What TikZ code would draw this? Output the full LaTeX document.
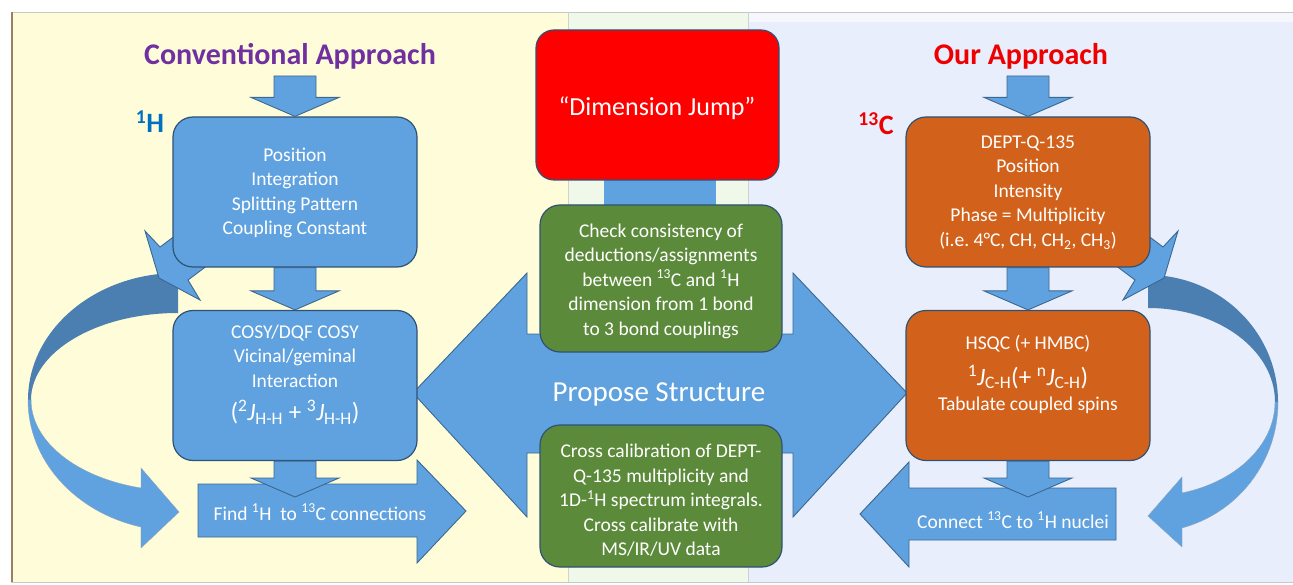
\documentclass[tikz,border=0pt]{standalone}
\usepackage{fontspec}
\setmainfont{Carlito}
\usetikzlibrary{calc}

\definecolor{paneyellow}{HTML}{FFFDD9}
\definecolor{panegreen}{HTML}{F0F9E9}
\definecolor{paneblue}{HTML}{E8EEFB}
\definecolor{flowblue}{HTML}{60A2DF}
\definecolor{bandblue}{HTML}{4C7FB1}
\definecolor{edgeblue}{HTML}{3B6791}
\definecolor{stepgreen}{HTML}{5C8A3B}
\definecolor{steporange}{HTML}{D2621B}
\definecolor{jumpred}{HTML}{FF0000}
\definecolor{convpurple}{HTML}{7030A0}
\definecolor{ourred}{HTML}{EE0000}
\definecolor{hblue}{HTML}{0070C0}

\pgfdeclarelayer{panels}
\pgfdeclarelayer{links}
\pgfsetlayers{panels,links,main}

% block arrow pointing down, shaft from #1 to the tip at #2
\newcommand{\dnarrow}[2]{%
  \draw[blockarrow] let \p1=(#1), \p2=(#2) in
    (\x2,\y2) -- (\x2-44pt,\y2+19pt) -- (\x2-21pt,\y2+19pt) -- (\x2-21pt,\y1)
    -- (\x2+21pt,\y1) -- (\x2+21pt,\y2+19pt) -- (\x2+44pt,\y2+19pt) -- cycle;}

\begin{document}
\begin{tikzpicture}[x=1pt,y=-1pt,font=\fontsize{19.5}{24.5}\selectfont]
  \tikzset{
    blockarrow/.style={fill=flowblue,draw=edgeblue,line width=0.9pt},
    bandback/.style={fill=bandblue},
    bandfront/.style={fill=flowblue},
    card/.style={rectangle,rounded corners=20pt,draw=edgeblue!80!black,line width=1.2pt,
      minimum width=244pt,minimum height=150pt},
    inner/.style={text=white,align=center},
    title/.style={font=\fontsize{30}{36}\selectfont\bfseries,anchor=base},
    nucleus/.style={font=\fontsize{28}{32}\selectfont\bfseries,anchor=base},
    jline/.style={text=white,font=\fontsize{25}{30}\selectfont}
  }
  \useasboundingbox (0,0) rectangle (1293,585);

  % Three coloured panels.
  \begin{pgfonlayer}{panels}
    \fill[paneyellow] (11,12) rectangle (568,582);
    \fill[panegreen] (568,12) rectangle (748,582);
    \fill[paneblue] (748,12) rectangle (1293,582);
    \fill[white!55!paneblue] (748,13) rectangle (1293,22);
    \draw[black!22,line width=0.8pt] (11,12) -- (1293,12) (11,582) -- (1293,582);
    \draw[brown!45!gray,line width=1.6pt] (12,12) -- (12,582);
    \draw[black!18] (568,12) -- (568,582) (748,12) -- (748,582);
  \end{pgfonlayer}

  % Titles and nuclei.
  \node[title,text=convpurple] (convt) at (290,65) {Conventional Approach};
  \node[title,text=ourred] (ourt) at (1021,65) {Our Approach};
  \node[nucleus,text=hblue] (hlab) at (150,133) {\textsuperscript{1}H};
  \node[nucleus,text=ourred] (clab) at (876,135) {\textsuperscript{13}C};

  % Two-way arrow behind the middle column.
  \draw[blockarrow] (413,393) -- (527,273) -- (527,334) -- (793,334) -- (793,273)
    -- (907,393) -- (793,517) -- (793,453) -- (527,453) -- (527,517) -- cycle;

  % Loop arrows on the outer sides.
  \fill[bandback] (178,273) arc[start angle=270,end angle=180,x radius=150,y radius=127]
    -- (31,400) arc[start angle=180,end angle=270,x radius=147,y radius=87] -- cycle;
  \draw[bandfront,draw=edgeblue!60,line width=0.4pt] (28,400)
    arc[start angle=180,end angle=104.3,x radius=150,y radius=131]
    -- (141,548) -- (179,512) -- (141,468) -- (141,488)
    arc[start angle=104.6,end angle=180,x radius=147,y radius=91] -- cycle;
  \fill[bandback] (1148,275) arc[start angle=270,end angle=360,x radius=130,y radius=127]
    -- (1275,402) arc[start angle=0,end angle=-90,x radius=127,y radius=94] -- cycle;
  \draw[bandfront,draw=edgeblue!60,line width=0.4pt] (1278,402)
    arc[start angle=0,end angle=74.84,x radius=130,y radius=130.5]
    -- (1182,547) -- (1148,516) -- (1182,477) -- (1182,493)
    arc[start angle=74.47,end angle=0,x radius=127,y radius=94.4] -- cycle;

  % Short arrows leaving the first boxes into the loops.
  \draw[blockarrow] (145,231) -- (160,247) -- (184,229) -- (212,262) -- (188,280)
    -- (200,300) -- (159,278) -- cycle;
  \draw[blockarrow] (1178,231) -- (1163,247) -- (1139,229) -- (1111,262) -- (1135,280)
    -- (1123,300) -- (1164,278) -- cycle;

  % Horizontal block arrows at the bottom.
  \draw[blockarrow] (198,484) -- (417,484) -- (417,460) -- (466,511) -- (417,563)
    -- (417,537) -- (198,537) -- cycle;
  \node[inner] (findt) at (320,512)
    {Find \textsuperscript{1}H\ \ to \textsuperscript{13}C connections};
  \draw[blockarrow] (1116,488) -- (909,488) -- (909,462) -- (860,514) -- (909,567)
    -- (909,540) -- (1116,540) -- cycle;
  \node[inner] (connt) at (1013,520) {Connect \textsuperscript{13}C to \textsuperscript{1}H nuclei};

  % Boxes.
  \node[card,fill=flowblue] (b1) at (295,192) {};
  \node[card,fill=flowblue] (b2) at (295,385.5) {};
  \node[card,fill=steporange] (b3) at (1028,192) {};
  \node[card,fill=steporange] (b4) at (1028,385.5) {};
  \node[card,fill=jumpred,minimum width=243pt,rounded corners=18pt] (jump) at (657.5,105) {};
  \node[card,fill=stepgreen,minimum width=242pt,minimum height=147pt] (g1) at (661,278.5) {};
  \node[card,fill=stepgreen,minimum width=242pt,minimum height=142pt] (g2) at (661,496) {};

  \begin{pgfonlayer}{links}
    \fill[flowblue] ($(jump.south)+(-54,-10)$) rectangle ($(g1.north)+(55,10)$);
  \end{pgfonlayer}

  % Down arrows.
  \coordinate (ltop) at (295,76);
  \coordinate (rtop) at (1028,76);
  \coordinate (findtip) at (295,497);
  \coordinate (conntip) at (1028,497);
  \dnarrow{ltop}{b1.north}
  \dnarrow{b1.south}{b2.north}
  \dnarrow{b2.south}{findtip}
  \dnarrow{rtop}{b3.north}
  \dnarrow{b3.south}{b4.north}
  \dnarrow{b4.south}{conntip}

  % Box texts.
  \node[inner] (b1t) at (295,193) {Position\\Integration\\Splitting Pattern\\Coupling Constant};
  \node[inner] (b2t) at (295,356) {COSY/DQF COSY\\Vicinal/geminal\\Interaction};
  \node[jline] (b2j) at (295,412)
    {(\textsuperscript{2}\textit{J}\textsubscript{H-H} + \textsuperscript{3}\textit{J}\textsubscript{H-H})};
  \node[inner] (b3t) at (1028,192.5)
    {DEPT-Q-135\\Position\\Intensity\\Phase = Multiplicity\\(i.e.\ 4°C, CH, CH\textsubscript{2}, CH\textsubscript{3})};
  \node[inner] (b4t) at (1028,344) {HSQC (+ HMBC)};
  \node[jline] (b4j) at (1028,377)
    {\textsuperscript{1}\textit{J}\textsubscript{C-H}(+ \textsuperscript{n}\textit{J}\textsubscript{C-H})};
  \node[inner] (b4s) at (1028,405) {Tabulate coupled spins};
  \node[inner,font=\fontsize{26}{30}\selectfont] (jumpt) at (657,108) {“Dimension Jump”};
  \node[inner] (g1t) at (661,281)
    {Check consistency of\\deductions/assignments\\between \textsuperscript{13}C and \textsuperscript{1}H\\dimension from 1 bond\\to 3 bond couplings};
  \node[inner] (g2t) at (661,500.5)
    {Cross calibration of DEPT-\\Q-135 multiplicity and\\1D-\textsuperscript{1}H spectrum integrals.\\Cross calibrate with\\MS/IR/UV data};
  \node[inner,font=\fontsize{29}{34}\selectfont] (prop) at (659,394) {Propose Structure};
\end{tikzpicture}
\end{document}
